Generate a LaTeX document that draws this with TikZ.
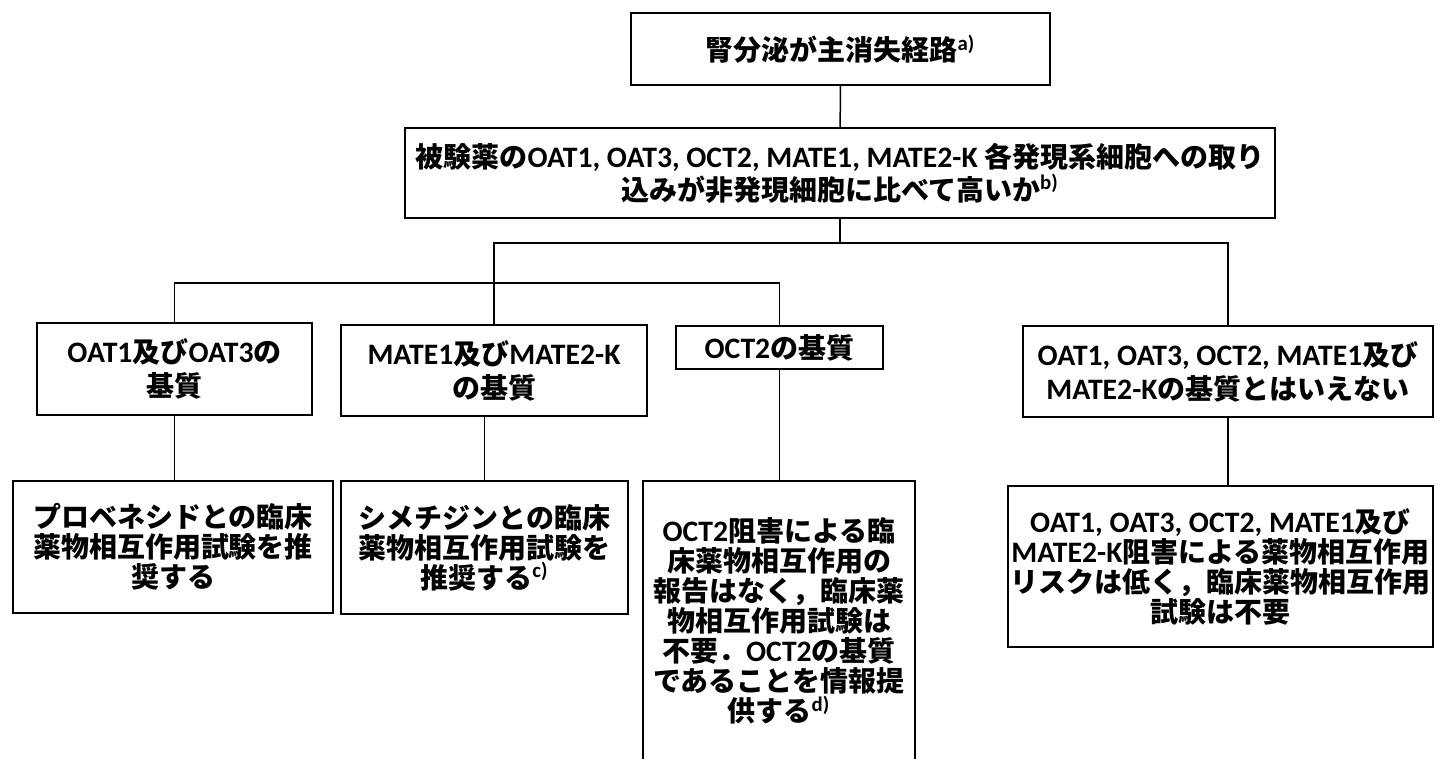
\documentclass[tikz,border=0pt]{standalone}
\usepackage{fontspec}
\setmainfont{Noto Sans CJK JP}
\newfontfamily\latf{Carlito}[Scale=1.06]
\newcommand\lat[1]{{\latf #1}}
\newcommand\fn[1]{\textsuperscript{\latf #1}}
\begin{document}
\begin{tikzpicture}[x=0.5pt,y=-0.5pt,
  box/.style={draw,line width=1pt,align=center,inner sep=0pt,
    font=\fontsize{14}{15}\selectfont\bfseries},
  tall/.style={font=\fontsize{14}{17}\selectfont\bfseries},
  sz/.style 2 args={minimum width=#1*0.5pt,minimum height=#2*0.5pt},
  link/.style={line width=0.75pt}]
  \useasboundingbox (0,0) rectangle (1437,759);

  \node[box,sz={419}{72}] (top) at (840.5,49) {腎分泌が主消失経路\fn{a)}};
  \node[box,sz={870}{90},font=\fontsize{14}{16.5}\selectfont\bfseries] (q) at (840,173)
    {被験薬の\lat{OAT1, OAT3, OCT2, MATE1, MATE2-K }各発現系細胞への取り\\
     込みが非発現細胞に比べて高いか\fn{b)}};

  \node[box,tall,sz={275}{92}] (oat) at (174.5,369) {\lat{OAT1}及び\lat{OAT3}の\\基質};
  \node[box,tall,sz={306}{91}] (mate) at (494,370.5) {\lat{MATE1}及び\lat{MATE2-K}\\の基質};
  \node[box,sz={207}{43}] (oct) at (779.5,347.5) {\lat{OCT2}の基質};
  \node[box,tall,sz={410}{91}] (none) at (1228,371.5)
    {\lat{OAT1, OAT3, OCT2, MATE1}及び\\\lat{MATE2-K}の基質とはいえない};

  \node[box,sz={320}{132}] (r1) at (173,547)
    {プロベネシドとの臨床\\薬物相互作用試験を推\\奨する};
  \node[box,sz={287}{133}] (r2) at (484.5,547.5)
    {シメチジンとの臨床\\薬物相互作用試験を\\推奨する\fn{c)}};
  \node[box,sz={272}{280}] (r3) at (779,621)
    {\lat{OCT2}阻害による臨\\床薬物相互作用の\\報告はなく，臨床薬\\物相互作用試験は\\
     不要．\lat{OCT2}の基質\\であることを情報提\\供する\fn{d)}};
  \node[box,sz={425}{161}] (r4) at (1220.5,566.5)
    {\lat{OAT1, OAT3, OCT2, MATE1}及び\\\lat{MATE2-K}阻害による薬物相互作用\\
     リスクは低く，臨床薬物相互作用\\試験は不要};

  \coordinate (hub) at (840,243);
  \coordinate (hub2) at (494,283);
  \draw[link] (top) -- (q);
  \draw[link] (q.south) -- (hub);
  \draw[link] (mate.north) |- (hub) -| (none.north);
  \draw[link] (oat.north) |- (hub2) -| (oct.north);
  \draw[link] (oat.south) -- (oat.south |- r1.north);
  \draw[link] (r2.north) -- (r2.north |- mate.south);
  \draw[link] (oct.south) -- (oct.south |- r3.north);
  \draw[link] (none.south) -- (none.south |- r4.north);
\end{tikzpicture}
\end{document}
